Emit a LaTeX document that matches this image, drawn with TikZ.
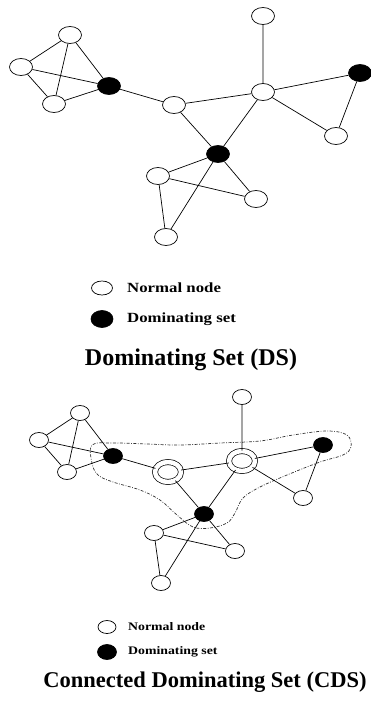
\documentclass[tikz,border=0pt]{standalone}
\usepackage{fontspec}
\setmainfont{Liberation Serif}
\newfontfamily\legendfont[FakeStretch=1.2]{Liberation Serif Bold}
\usetikzlibrary{shapes}
\tikzset{>=latex}
\tikzset{
  nd/.style={draw, ellipse, line width=0.7pt, inner sep=0pt, minimum width=23pt, minimum height=17pt},
  dom/.style={nd, fill=black},
  cds/.style={nd, double, double distance=4.5pt, minimum width=26pt, minimum height=20pt},
  lnk/.style={line width=0.7pt},
  legtext/.style={anchor=west, inner sep=0pt},
  title/.style={font=\bfseries}
}

\begin{document}
\begin{tikzpicture}[x=1pt, y=-1pt]
\useasboundingbox (0,0) rectangle (371,706);

% dominating set
\begin{scope}
\node[nd] (a1) at (70,35) {};
\node[nd] (a2) at (21,67) {};
\node[nd] (a3) at (54,104) {};
\node[dom] (d1) at (109,86) {};
\node[nd] (n5) at (174,105) {};
\node[nd] (hub) at (263,92) {};
\node[nd] (top) at (263,16) {};
\node[dom] (d2) at (360,73) {};
\node[nd] (r2) at (336,136) {};
\node[dom] (d3) at (218,154) {};
\node[nd] (b1) at (158,176) {};
\node[nd] (b2) at (256,199) {};
\node[nd] (b3) at (166,237) {};
\draw[lnk] (a1) -- (a2) (a1) -- (a3) (a1) -- (d1) (a2) -- (a3) (a2) -- (d1) (a3) -- (d1);
\draw[lnk] (d1) -- (n5) (n5) -- (hub) (n5) -- (d3) (hub) -- (top) (hub) -- (d2) (hub) -- (r2)
  (hub) -- (d3) (d2) -- (r2);
\draw[lnk] (d3) -- (b1) (d3) -- (b2) (d3) -- (b3) (b1) -- (b2) (b1) -- (b3);

\node[nd, minimum width=21pt, minimum height=14pt] (k1) at (102,288) {};
\node[dom, minimum width=22pt, minimum height=17pt] (k2) at (102,319) {};
\node[legtext, font=\legendfont\fontsize{14}{16}\selectfont] at (127,288) {Normal node};
\node[legtext, font=\legendfont\fontsize{14}{16}\selectfont] at (127,319) {Dominating set};
\node[title, font=\bfseries\fontsize{24}{28}\selectfont] at (191,360) {Dominating Set (DS)};
\end{scope}

% connected dominating set
\begin{scope}[nd/.append style={minimum width=19pt, minimum height=15pt}]
\draw[line width=0.7pt, black!80, dash pattern=on 3pt off 1.5pt on 0.8pt off 1.5pt]
  plot[smooth cycle, tension=0.6] coordinates {(92,445) (113,443) (147,444) (180,445) (220,443)
  (260,441) (293,435) (327,431) (347,435) (351,447) (343,455) (320,462) (287,475) (260,487)
  (243,498) (235,513) (227,523) (210,528) (193,527) (177,515) (160,500) (140,490) (113,482)
  (98,475) (92,463)};
\node[nd] (c1) at (80,413) {};
\node[nd] (c2) at (39,440) {};
\node[nd] (c3) at (67,472) {};
\node[dom] (e1) at (113,456) {};
\node[cds] (m5) at (168,472) {};
\node[cds] (hubb) at (242,461) {};
\node[nd] (topb) at (242,397) {};
\node[dom] (e2) at (323,445) {};
\node[nd] (rb) at (303,498) {};
\node[dom] (e3) at (204,514) {};
\node[nd] (f1) at (154,533) {};
\node[nd] (f2) at (235,551) {};
\node[nd] (f3) at (161,583) {};
\draw[lnk] (c1) -- (c2) (c1) -- (c3) (c1) -- (e1) (c2) -- (c3) (c2) -- (e1) (c3) -- (e1);
\draw[lnk] (e1) -- (m5) (m5) -- (hubb) (m5) -- (e3) (hubb) -- (topb) (hubb) -- (e2) (hubb) -- (rb)
  (hubb) -- (e3) (e2) -- (rb);
\draw[lnk] (e3) -- (f1) (e3) -- (f2) (e3) -- (f3) (f1) -- (f2) (f1) -- (f3);

\node[nd, minimum width=18pt, minimum height=13pt] (k3) at (107,627) {};
\node[dom, minimum width=19pt, minimum height=15pt] (k4) at (107,652) {};
\node[legtext, font=\legendfont\fontsize{11.5}{14}\selectfont] at (128,627) {Normal node};
\node[legtext, font=\legendfont\fontsize{11.5}{14}\selectfont] at (128,652) {Dominating set};
\node[title, font=\bfseries\fontsize{22.5}{27}\selectfont] at (205,682) {Connected Dominating Set (CDS)};
\end{scope}
\end{tikzpicture}
\end{document}
